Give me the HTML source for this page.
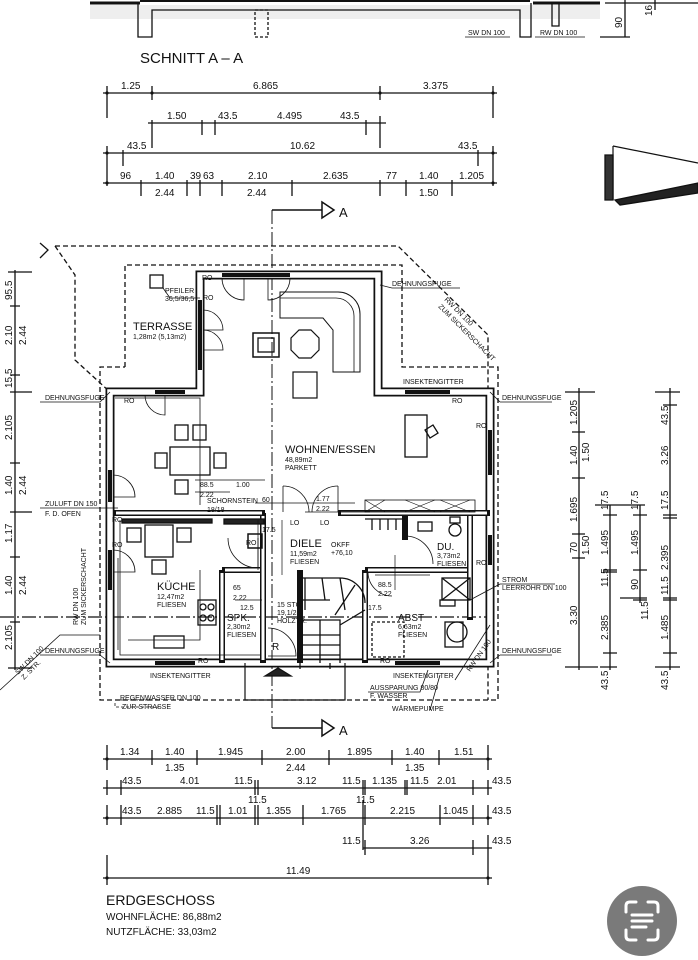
<!DOCTYPE html>
<html><head><meta charset="utf-8"><style>
html,body{margin:0;padding:0;background:#fff;}
svg{display:block;}
text{font-family:"Liberation Sans Narrow","Liberation Sans",sans-serif;fill:#111;}
.s{font-size:7px;}
.d{font-size:10px;}
.r{font-size:10px;}
</style></head><body>
<svg width="698" height="960" viewBox="0 0 698 960" xmlns="http://www.w3.org/2000/svg">
<g stroke="#111" fill="none" stroke-width="1.3">
<!-- SECTION TOP -->
<line x1="90" y1="3" x2="140" y2="3" stroke-width="3"/>
<line x1="140" y1="1" x2="530" y2="1" stroke-width="2"/>
<line x1="533" y1="3" x2="600" y2="3" stroke-width="3"/>
<rect x="90" y="5" width="510" height="14" fill="#eee" stroke="none"/>
<path d="M138 3 V37 H152 V10 H520 V37 H531 V3"/>
<path d="M552 3 V26 H559 V3"/>
<rect x="255" y="10" width="13" height="27" stroke-dasharray="3,2"/>
<path d="M465 37 H510 M535 37 H585" stroke-width="0.8"/>
<line x1="605" y1="3" x2="698" y2="3"/>
<line x1="600" y1="37" x2="630" y2="37"/>
<line x1="625" y1="0" x2="625" y2="37"/>
<line x1="655" y1="0" x2="655" y2="10"/>
<!-- right wedge -->
<path d="M613 146 L698 163" stroke-width="1.2"/>
<path d="M613 146 V200" stroke-width="1.2"/>
<path d="M605 155 H613 V200 H605 Z" fill="#333"/>
<path d="M615 200 L698 183 V193 L620 205 Z" fill="#222"/>

<!-- TOP DIMENSIONS -->
<line x1="103" y1="93" x2="497" y2="93"/>
<path d="M107 86V118 M152 86V100 M380 86V100 M493 86V118"/>
<line x1="148" y1="123" x2="386" y2="123"/>
<path d="M152 120V148 M202 120V135 M215 120V135 M366 120V135 M380 116V148"/>
<line x1="103" y1="153" x2="497" y2="153"/>
<path d="M107 146V186 M123 150V166 M478 150V166 M493 146V186"/>
<line x1="103" y1="183" x2="497" y2="183"/>
<path d="M141 180V196 M187 180V196 M200 180V196 M222 180V196 M292 180V196 M380 180V196 M406 180V196 M452 180V196"/>

<!-- SECTION MARKER A -->
<path d="M272 210 H322" stroke-width="1.5"/>
<path d="M322 202 L334 210 L322 218 Z" stroke-width="1.5"/>
<path d="M272 728 H322" stroke-width="1.5"/>
<path d="M322 720 L334 728 L322 736 Z" stroke-width="1.5"/>
<line x1="272" y1="210" x2="272" y2="728" stroke-dasharray="14,3,2,3" stroke-width="1"/>

<!-- dashed outlines -->
<path d="M55 246 H398 L488 335 V700" stroke-dasharray="5,3"/>
<path d="M125 367 V265 H402 V367 H498 V700 H100 V367 H125" stroke-dasharray="5,3"/>
<path d="M55 246 L75 275 V360 L110 392" stroke-dasharray="5,3"/>
<path d="M40 243 L48 250 L40 258" />
<line x1="0" y1="617" x2="490" y2="617" stroke-dasharray="14,3,2,3"/>

<!-- OUTER WALLS (double line) -->
<g stroke-linejoin="miter">
<path d="M200 275 H378 V392 H490 V663 H110 V392 H200 Z" stroke-width="9"/>
<path d="M200 275 H378 V392 H490 V663 H110 V392 H200 Z" stroke="#fff" stroke-width="5.5"/>
</g>
<g stroke-width="4">
<line x1="222" y1="275" x2="290" y2="275"/>
<line x1="200" y1="300" x2="200" y2="370"/>
<line x1="155" y1="392" x2="185" y2="392"/>
<line x1="405" y1="392" x2="450" y2="392"/>
<line x1="490" y1="430" x2="490" y2="475"/>
<line x1="110" y1="470" x2="110" y2="502"/>
<line x1="110" y1="550" x2="110" y2="590"/>
<line x1="490" y1="535" x2="490" y2="565"/>
<line x1="155" y1="663" x2="195" y2="663"/>
<line x1="395" y1="663" x2="440" y2="663"/>
</g>
<path d="M222 278 A22 22 0 0 0 244 300 V278" stroke-width="0.8"/>
<path d="M290 278 A22 22 0 0 1 268 300 V278" stroke-width="0.8"/>
<path d="M203 310 A20 20 0 0 1 223 330 H203" stroke-width="0.8"/>
<path d="M203 330 A20 20 0 0 1 223 350 H203" stroke-width="0.8"/>
<path d="M145 395 A20 20 0 0 0 165 415 V395" stroke-width="0.8"/>
<path d="M113 475 A22 22 0 0 1 135 497 H113" stroke-width="0.8"/>
<path d="M113 550 A22 22 0 0 1 135 572 H113" stroke-width="0.8"/>
<path d="M283 486 A26 26 0 0 1 309 512 M338 486 A26 26 0 0 0 312 512" stroke-width="0.8"/>
<path d="M283 486 V512 M338 486 V512" stroke-width="0.8"/>
<path d="M228 538 A30 30 0 0 0 258 568 V538" stroke-width="0.8"/>
<path d="M268 628 A28 28 0 0 1 296 656 H268" stroke-width="0.8"/>
<path d="M368 572 A24 24 0 0 0 392 596" stroke-width="0.8"/>
<path d="M405 536 A28 28 0 0 1 433 564" stroke-width="0.8"/>

<!-- INTERIOR WALLS -->
<g stroke-width="6">
<path d="M113 513 H265 M338 513 H490"/>
<path d="M263 513 V663"/>
<path d="M222 570 V663 M222 570 H263"/>
<path d="M300 570 V663"/>
<path d="M365 570 V663 M365 570 H470"/>
<path d="M405 513 V540"/>
<path d="M470 513 V620"/>
</g>
<g stroke="#fff" stroke-width="3">
<path d="M116 513 H262 M341 513 H487"/>
<path d="M263 516 V660"/>
<path d="M222 573 V660 M225 570 H260"/>
<path d="M365 573 V660 M368 570 H467"/>
<path d="M470 516 V617"/>
</g>
<path d="M245 663 V700 H345 V663" stroke-width="1.2"/>
<path d="M265 676 L278 668 L291 676 Z" fill="#222"/>
<path d="M300 663 V669 M330 663 V669"/>
<path d="M115 398 H200 V505 M120 520 V655 H260" stroke-width="0.8"/>
<path d="M118 558 V650" stroke-width="0.8"/>

<!-- FURNITURE -->
<path d="M280 292 H338 A22 22 0 0 1 360 314 V372 H333 V330 L323 318 H280 Z" stroke-width="1"/>
<path d="M280 298 H336 A18 18 0 0 1 354 316 V372" stroke-width="0.8"/>
<polygon points="299,330 311,330 319,338 319,350 311,358 299,358 291,350 291,338" stroke-width="1.2"/>
<rect x="253" y="333" width="26" height="24" stroke-width="1.5"/>
<rect x="258" y="338" width="16" height="14"/>
<rect x="293" y="372" width="24" height="26" stroke-width="1.2"/>
<rect x="405" y="415" width="22" height="42"/>
<path d="M425 430 l8 -5 5 8 -8 5 z"/>
<rect x="170" y="447" width="40" height="28"/>
<rect x="175" y="425" width="13" height="15"/>
<rect x="193" y="425" width="13" height="15"/>
<rect x="155" y="453" width="12" height="15"/>
<rect x="214" y="453" width="12" height="15"/>
<rect x="175" y="480" width="13" height="14"/>
<rect x="145" y="525" width="28" height="32"/>
<rect x="127" y="528" width="14" height="14"/>
<rect x="177" y="528" width="14" height="14"/>
<rect x="152" y="560" width="14" height="14"/>
<path d="M200 570 V640 H128" stroke-width="0.8"/>
<rect x="198" y="600" width="18" height="25"/>
<circle cx="203" cy="607" r="3"/><circle cx="211" cy="607" r="3"/><circle cx="203" cy="618" r="3"/><circle cx="211" cy="618" r="3"/>
<rect x="154" y="636" width="30" height="12"/>
<rect x="248" y="534" width="14" height="14" stroke-width="1.5"/>
<rect x="224" y="519" width="40" height="5" fill="#222"/>
<rect x="122" y="519" width="90" height="4" fill="#222"/>
<path d="M300 578 H340 A25 25 0 0 1 365 603 M300 600 H330 M300 620 H340 V663 M322 578 L325 600 M340 578 L345 610 M355 585 L335 615 M365 610 L340 625 M300 635 H340 M300 645 H340 M300 655 H340 M320 620 V663"/>
<path d="M305 578 V610"/>
<path d="M365 519 H405 M372 519 V530 M380 519 V530 M388 519 V530 M396 519 V530"/>
<rect x="365" y="500" width="110" height="12" stroke-width="0.8"/>
<path d="M365 500 L385 512 M385 500 L365 512 M405 500 L435 512 M435 500 L405 512 M440 500 L470 512 M470 500 L440 512" stroke-width="0.6"/>
<circle cx="455" cy="530" r="6"/><rect x="450" y="517" width="10" height="6"/>
<rect x="418" y="522" width="14" height="9"/>
<rect x="442" y="578" width="28" height="22"/>
<path d="M442 578 L470 600 M470 578 L442 600"/>
<rect x="440" y="600" width="15" height="6"/>
<rect x="372" y="622" width="32" height="35" stroke-dasharray="3,2"/>
<rect x="445" y="622" width="18" height="25"/>
<circle cx="457" cy="632" r="10"/>
<rect x="150" y="275" width="13" height="13"/>
<path d="M163 288 L170 298 H200" stroke-width="0.8"/>
<path d="M40 402 H100 L110 392" stroke-width="0.8"/>
<path d="M40 655 H100 L110 663" stroke-width="0.8"/>
<path d="M40 508 H118" stroke-width="0.8"/>
<path d="M500 402 H552 M500 402 L490 392" stroke-width="0.8"/>
<path d="M500 655 H552 M500 655 L490 663" stroke-width="0.8"/>
<path d="M500 584 H555 M500 584 L470 600" stroke-width="0.8"/>
<path d="M380 285 L392 288 H460" stroke-width="0.8"/>
<path d="M0 690 L60 635 H100" stroke-width="0.8"/>
<path d="M455 680 L490 625" stroke-width="0.8"/>
<path d="M368 692 H420 L428 670" stroke-width="0.8"/>
<path d="M430 710 L440 675" stroke-width="0.8"/>
<path d="M115 700 H160 M115 703 V707 H160" stroke-dasharray="3,2" stroke-width="0.8"/>
<path d="M195 480 H265 M195 492 H230 M255 503 H355 M305 512 H370 M235 600 H262 M395 555 V590 M375 575 H430" stroke-width="0.7"/>
<path d="M282 520 V575 M258 520 V570" stroke-width="0.7"/>

<!-- RIGHT DIMENSIONS -->
<path d="M579 388 V670 M610 505 V670 M640 505 V603 M670 388 V670" />
<path d="M565 392H595 M572 432H585 M572 478H585 M572 534H585 M572 558H585 M565 667H598"/>
<path d="M595 505H645 M603 515H617 M603 570H617 M603 572H617 M603 653H617 M600 667H617"/>
<path d="M633 515H647 M633 570H647 M620 598H647 M633 600H647"/>
<path d="M655 392H680 M663 405H677 M663 515H677 M663 518H677 M663 598H677 M663 600H677 M663 653H677 M655 667H680"/>
<path d="M15 270 V670"/>
<path d="M8 272H32 M10 306H20 M10 375H20 M10 392H32 M10 463H20 M10 512H32 M10 557H20 M10 622H20 M8 668H32"/>

<!-- BOTTOM DIMENSIONS -->
<line x1="103" y1="759" x2="492" y2="759"/>
<path d="M107 745V770 M152 750V765 M197 750V765 M262 750V765 M329 750V765 M392 750V765 M439 750V765 M488 745V770"/>
<line x1="103" y1="788" x2="492" y2="788"/>
<path d="M107 780V795 M121 780V795 M255 780V795 M258 780V795 M363 780V795 M365 780V795 M405 780V795 M407 780V795 M473 780V795 M488 780V795"/>
<line x1="103" y1="818" x2="492" y2="818"/>
<path d="M107 805V825 M121 805V825 M217 805V825 M220 805V825 M255 805V825 M258 805V825 M303 805V825 M363 800V850 M365 805V825 M440 805V825 M473 805V825 M488 805V825"/>
<line x1="363" y1="848" x2="492" y2="848"/>
<path d="M365 840V855 M473 840V855 M488 835V855"/>
<line x1="103" y1="878" x2="492" y2="878"/>
<path d="M107 855V885 M488 855V885"/>
</g>

<g fill="#111">
<circle cx="107" cy="93" r="1.6"/><circle cx="152" cy="93" r="1.6"/><circle cx="380" cy="93" r="1.6"/><circle cx="493" cy="93" r="1.6"/>
<circle cx="107" cy="183" r="1.6"/><circle cx="493" cy="183" r="1.6"/><circle cx="107" cy="153" r="1.6"/><circle cx="493" cy="153" r="1.6"/>
<circle cx="107" cy="759" r="1.6"/><circle cx="488" cy="759" r="1.6"/><circle cx="107" cy="818" r="1.6"/><circle cx="488" cy="818" r="1.6"/><circle cx="107" cy="878" r="1.6"/><circle cx="488" cy="878" r="1.6"/>
</g>

<text x="140" y="63" font-size="15">SCHNITT A – A</text>
<text x="468" y="35" class="s">SW DN 100</text>
<text x="540" y="35" class="s">RW DN 100</text>
<text class="d" transform="translate(622,28) rotate(-90)">90</text>
<text class="d" transform="translate(652,16) rotate(-90)">16</text>

<g class="d" font-size="10">
<text x="121" y="89">1.25</text><text x="253" y="89">6.865</text><text x="423" y="89">3.375</text>
<text x="167" y="119">1.50</text><text x="218" y="119">43.5</text><text x="277" y="119">4.495</text><text x="340" y="119">43.5</text>
<text x="127" y="149">43.5</text><text x="290" y="149">10.62</text><text x="458" y="149">43.5</text>
<text x="120" y="179">96</text><text x="155" y="179">1.40</text><text x="190" y="179">39</text><text x="203" y="179">63</text><text x="248" y="179">2.10</text><text x="323" y="179">2.635</text><text x="386" y="179">77</text><text x="419" y="179">1.40</text><text x="459" y="179">1.205</text>
<text x="155" y="196">2.44</text><text x="247" y="196">2.44</text><text x="419" y="196">1.50</text>

<text x="120" y="755">1.34</text><text x="165" y="755">1.40</text><text x="218" y="755">1.945</text><text x="286" y="755">2.00</text><text x="347" y="755">1.895</text><text x="405" y="755">1.40</text><text x="454" y="755">1.51</text>
<text x="165" y="771">1.35</text><text x="286" y="771">2.44</text><text x="405" y="771">1.35</text>
<text x="122" y="784">43.5</text><text x="180" y="784">4.01</text><text x="234" y="784">11.5</text><text x="297" y="784">3.12</text><text x="342" y="784">11.5</text><text x="372" y="784">1.135</text><text x="410" y="784">11.5</text><text x="437" y="784">2.01</text><text x="492" y="784">43.5</text>
<text x="248" y="803">11.5</text><text x="356" y="803">11.5</text>
<text x="122" y="814">43.5</text><text x="157" y="814">2.885</text><text x="196" y="814">11.5</text><text x="228" y="814">1.01</text><text x="266" y="814">1.355</text><text x="321" y="814">1.765</text><text x="390" y="814">2.215</text><text x="443" y="814">1.045</text><text x="492" y="814">43.5</text>
<text x="342" y="844">11.5</text><text x="410" y="844">3.26</text><text x="492" y="844">43.5</text>
<text x="286" y="874">11.49</text>
</g>

<g class="d">
<text transform="translate(577,425) rotate(-90)">1.205</text>
<text transform="translate(577,465) rotate(-90)">1.40</text>
<text transform="translate(589,462) rotate(-90)">1.50</text>
<text transform="translate(577,522) rotate(-90)">1.695</text>
<text transform="translate(577,553) rotate(-90)">70</text>
<text transform="translate(589,555) rotate(-90)">1.50</text>
<text transform="translate(577,625) rotate(-90)">3.30</text>
<text transform="translate(608,510) rotate(-90)">17.5</text>
<text transform="translate(608,555) rotate(-90)">1.495</text>
<text transform="translate(608,587) rotate(-90)">11.5</text>
<text transform="translate(608,640) rotate(-90)">2.385</text>
<text transform="translate(608,690) rotate(-90)">43.5</text>
<text transform="translate(638,510) rotate(-90)">17.5</text>
<text transform="translate(638,555) rotate(-90)">1.495</text>
<text transform="translate(638,590) rotate(-90)">90</text>
<text transform="translate(648,620) rotate(-90)">11.5</text>
<text transform="translate(668,425) rotate(-90)">43.5</text>
<text transform="translate(668,465) rotate(-90)">3.26</text>
<text transform="translate(668,510) rotate(-90)">17.5</text>
<text transform="translate(668,570) rotate(-90)">2.395</text>
<text transform="translate(668,595) rotate(-90)">11.5</text>
<text transform="translate(668,640) rotate(-90)">1.485</text>
<text transform="translate(668,690) rotate(-90)">43.5</text>

<text transform="translate(12,300) rotate(-90)">95.5</text>
<text transform="translate(12,345) rotate(-90)">2.10</text>
<text transform="translate(26,345) rotate(-90)">2.44</text>
<text transform="translate(12,388) rotate(-90)">15.5</text>
<text transform="translate(12,440) rotate(-90)">2.105</text>
<text transform="translate(12,495) rotate(-90)">1.40</text>
<text transform="translate(26,495) rotate(-90)">2.44</text>
<text transform="translate(12,543) rotate(-90)">1.17</text>
<text transform="translate(12,595) rotate(-90)">1.40</text>
<text transform="translate(26,595) rotate(-90)">2.44</text>
<text transform="translate(12,650) rotate(-90)">2.105</text>
</g>

<text x="339" y="217" font-size="13">A</text>
<text x="339" y="735" font-size="13">A</text>

<text x="133" y="330" font-size="11">TERRASSE</text>
<text x="133" y="339" class="s">1,28m2 (5,13m2)</text>
<text x="165" y="293" class="s">PFEILER</text><text x="165" y="301" class="s">36,5/36,5</text>
<text x="285" y="453" font-size="11">WOHNEN/ESSEN</text>
<text x="285" y="462" class="s">48,89m2</text><text x="285" y="470" class="s">PARKETT</text>
<text x="290" y="547" font-size="11">DIELE</text>
<text x="290" y="556" class="s">11,59m2</text><text x="290" y="564" class="s">FLIESEN</text>
<text x="331" y="547" class="s">OKFF</text><text x="331" y="555" class="s">+76,10</text>
<text x="157" y="590" font-size="11">KÜCHE</text>
<text x="157" y="599" class="s">12,47m2</text><text x="157" y="607" class="s">FLIESEN</text>
<text x="227" y="621" font-size="10">SPK.</text>
<text x="227" y="629" class="s">2,30m2</text><text x="227" y="637" class="s">FLIESEN</text>
<text x="398" y="621" font-size="10">ABST</text>
<text x="398" y="629" class="s">6,63m2</text><text x="398" y="637" class="s">FLIESEN</text>
<text x="437" y="550" font-size="10">DU.</text>
<text x="437" y="558" class="s">3,73m2</text><text x="437" y="566" class="s">FLIESEN</text>
<text x="277" y="607" class="s">15 STG.</text><text x="277" y="615" class="s">19,1/25</text><text x="277" y="623" class="s">HOLZTR.</text>
<text x="207" y="503" class="s">SCHORNSTEIN</text><text x="207" y="512" class="s">18/18</text>
<text x="200" y="487" class="s">88.5</text><text x="236" y="487" class="s">1.00</text><text x="200" y="497" class="s">2.22</text>
<text x="262" y="502" class="s">60</text><text x="316" y="501" class="s">1.77</text><text x="316" y="511" class="s">2.22</text>
<text x="233" y="590" class="s">65</text><text x="233" y="600" class="s">2.22</text><text x="240" y="610" class="s">12.5</text>
<text x="378" y="587" class="s">88.5</text><text x="378" y="596" class="s">2.22</text><text x="368" y="610" class="s">17.5</text>
<text x="290" y="525" class="s">LO</text><text x="320" y="525" class="s">LO</text>
<text x="262" y="532" class="s">17.5</text>
<text x="45" y="400" class="s">DEHNUNGSFUGE</text>
<text x="45" y="653" class="s">DEHNUNGSFUGE</text>
<text x="502" y="400" class="s">DEHNUNGSFUGE</text>
<text x="502" y="653" class="s">DEHNUNGSFUGE</text>
<text x="392" y="286" class="s">DEHNUNGSFUGE</text>
<text x="403" y="384" class="s">INSEKTENGITTER</text>
<text x="150" y="678" class="s">INSEKTENGITTER</text>
<text x="393" y="678" class="s">INSEKTENGITTER</text>
<text x="45" y="506" class="s">ZULUFT DN 150</text><text x="45" y="516" class="s">F. D. OFEN</text>
<text x="502" y="582" class="s">STROM</text><text x="502" y="590" class="s">LEERROHR DN 100</text>
<text x="370" y="690" class="s">AUSSPARUNG 80/80</text><text x="370" y="698" class="s">F. WASSER</text><text x="392" y="711" class="s">WÄRMEPUMPE</text>
<text x="120" y="700" class="s">REGENWASSER DN 100</text><text x="122" y="709" class="s">ZUR STRASSE</text>
<text x="203" y="300" class="s">RO</text><text x="202" y="280" class="s">RO</text><text x="124" y="403" class="s">RO</text><text x="452" y="403" class="s">RO</text>
<text x="476" y="428" class="s">RO</text><text x="476" y="565" class="s">RO</text><text x="112" y="522" class="s">RO</text><text x="112" y="547" class="s">RO</text>
<text x="198" y="663" class="s">RO</text><text x="380" y="663" class="s">RO</text><text x="246" y="545" class="s">RO</text>
<text x="272" y="650" font-size="10">R</text>
<text transform="translate(444,300) rotate(45)" class="s">RW DN 100</text>
<text transform="translate(438,307) rotate(45)" class="s">ZUM SICKERSCHACHT</text>
<text transform="translate(78,625) rotate(-90)" class="s">RW DN 100</text>
<text transform="translate(86,625) rotate(-90)" class="s">ZUM SICKERSCHACHT</text>
<text transform="translate(18,675) rotate(-45)" class="s">SW DN 100</text>
<text transform="translate(24,680) rotate(-45)" class="s">Z. STR.</text>
<text transform="translate(470,672) rotate(-55)" class="s">RW DN 100</text>

<text x="106" y="905" font-size="14">ERDGESCHOSS</text>
<text x="106" y="920" font-size="10">WOHNFLÄCHE:  86,88m2</text>
<text x="106" y="935" font-size="10">NUTZFLÄCHE:  33,03m2</text>

<circle cx="642" cy="921" r="35" fill="#7a7a7a"/>
<g stroke="#fff" stroke-width="3" fill="none" stroke-linecap="round">
<path d="M626 912 V906 Q626 902 630 902 H636 M648 902 H654 Q658 902 658 906 V912 M626 930 V936 Q626 940 630 940 H636 M648 940 H654 Q658 940 658 936 V930"/>
<path d="M632 915 H652 M632 921 H652 M632 927 H646"/>
</g>
</svg>
</body></html>
